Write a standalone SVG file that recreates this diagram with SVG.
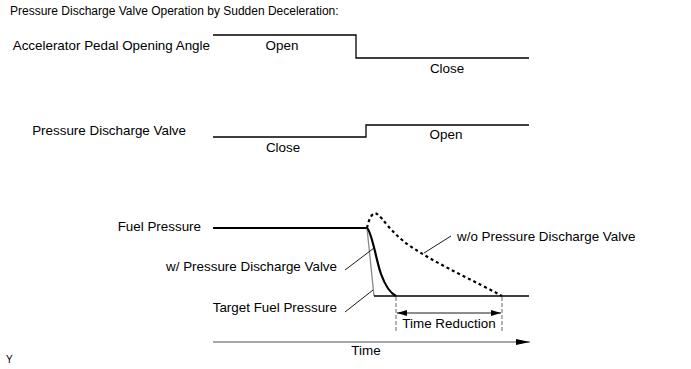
<svg xmlns="http://www.w3.org/2000/svg" width="691" height="369" viewBox="0 0 691 369">
<style>
text{font-family:"Liberation Sans",Arial,sans-serif;font-size:13.4px;fill:#000}
.e{text-anchor:end}.m{text-anchor:middle}
.ln{fill:none;stroke:#000;stroke-width:1.3}
.th{fill:none;stroke:#000;stroke-width:2.2}
.gr{fill:none;stroke:#888;stroke-width:1.3}
.ds{fill:none;stroke:#000;stroke-width:2.2;stroke-dasharray:3,3}
.vd{fill:none;stroke:#666;stroke-width:1;stroke-dasharray:4,2}
.ld{fill:none;stroke:#000;stroke-width:0.9}
</style>
<defs>
<marker id="ah" viewBox="0 0 10 6" refX="10" refY="3" markerWidth="10" markerHeight="6" markerUnits="userSpaceOnUse" orient="auto-start-reverse"><path d="M0,0L10,3L0,6z" fill="#000"/></marker>
<marker id="ah2" viewBox="0 0 14 6" refX="14" refY="3" markerWidth="14" markerHeight="6" markerUnits="userSpaceOnUse" orient="auto"><path d="M0,0L14,3L0,6z" fill="#000"/></marker>
</defs>
<text x="10" y="15" style="font-size:12px">Pressure Discharge Valve Operation by Sudden Deceleration:</text>
<g id="accel">
<text class="e" x="210" y="50">Accelerator Pedal Opening Angle</text>
<path class="ln" d="M213,35H356V58H529"/>
<text class="m" x="282" y="50">Open</text>
<text class="m" x="447" y="73">Close</text>
</g>
<g id="pdv">
<text class="e" x="186" y="135">Pressure Discharge Valve</text>
<path class="ln" d="M213,137H366V125H529"/>
<text class="m" x="283" y="152">Close</text>
<text class="m" x="446" y="139">Open</text>
</g>
<g id="fuel">
<text class="e" x="201" y="231">Fuel Pressure</text>
<path class="th" d="M213,228H367"/>
<path class="gr" d="M367,228L374,296"/>
<path class="ln" d="M374,296H529"/>
<path class="ds" d="M367,228C369,218 373,211 377,214C384,219 390,232 410,246C440,266 475,281 502,296"/>
<path class="th" d="M367,228C372,232 376,260 381,274C385,285 390,293 396,296"/>
<text class="e" x="337" y="271">w/ Pressure Discharge Valve</text>
<text class="e" x="337" y="312">Target Fuel Pressure</text>
<text x="457" y="241">w/o Pressure Discharge Valve</text>
</g>
<g id="connectors">
<path class="ld" d="M345,270L374,248"/>
<path class="ld" d="M345,312L373,290"/>
<path class="ld" d="M451,236L424,253"/>
<path class="vd" d="M396,297V331"/>
<path class="vd" d="M502,297V331"/>
<path class="ld" d="M397,313H501" stroke-width="1.2" marker-start="url(#ah)" marker-end="url(#ah)"/>
<path class="gr" d="M213,342H530" stroke="#555" marker-end="url(#ah2)"/>
</g>
<text class="m" x="449" y="328">Time Reduction</text>
<text class="m" x="366" y="355">Time</text>
<text x="6" y="363" style="font-size:10px">Y</text>
</svg>
